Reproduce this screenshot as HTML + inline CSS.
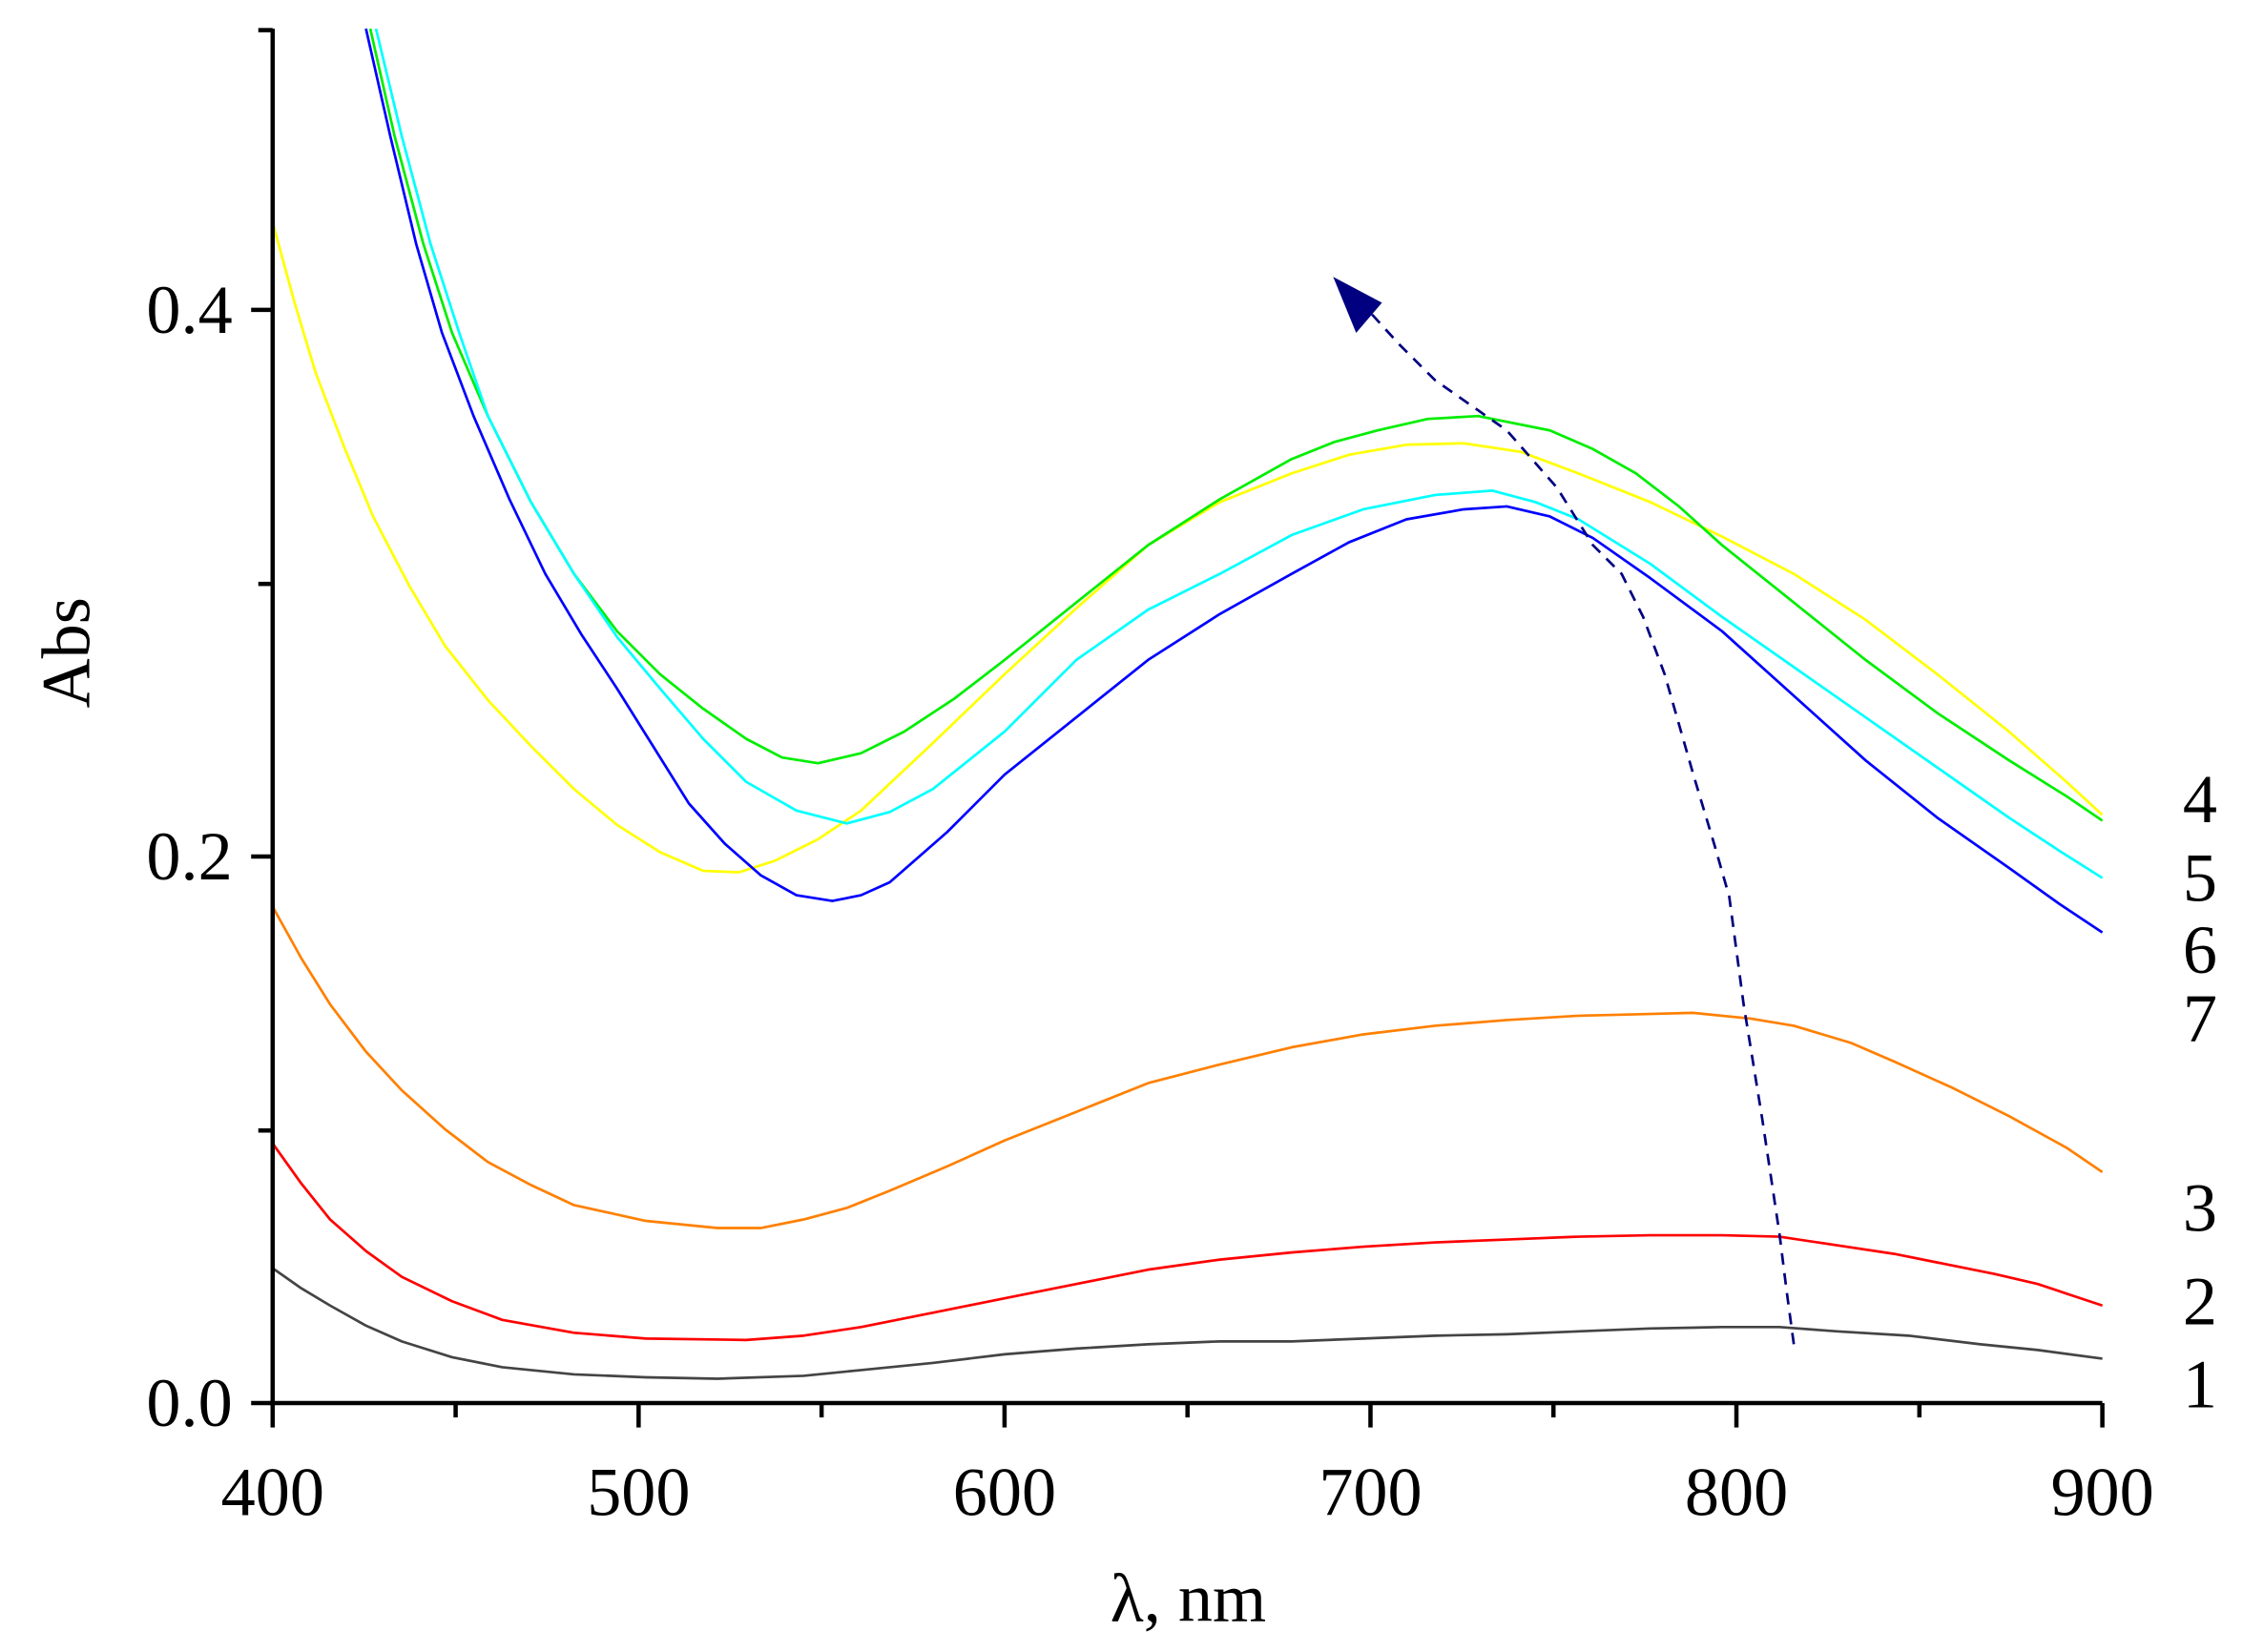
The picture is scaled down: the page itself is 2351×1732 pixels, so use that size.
<!DOCTYPE html>
<html><head><meta charset="utf-8"><style>html,body{margin:0;padding:0;background:#fff;}svg{display:block;}</style></head>
<body>
<svg width="2351" height="1732" viewBox="0 0 1563 1151.5" preserveAspectRatio="none" xmlns="http://www.w3.org/2000/svg" font-family="Liberation Serif, serif">
<g fill="none" stroke-width="1.8" stroke-linejoin="round">
<polyline stroke="#444" points="190,884 210,898 230,910 255,924 280,935 315,946 350,953 400,958 450,960 500,961 560,959 600,955 650,950 700,944 750,940 800,937 850,935 900,935 950,933 1000,931 1050,930 1100,928 1150,926 1200,925 1240,925 1280,928 1330,931 1380,937 1420,941 1465,947"/>
<polyline stroke="#ff0000" points="190,797 210,825 230,850 255,872 280,890 315,907 350,920 400,929 450,933 520,934 560,931 600,925 650,915 700,905 750,895 800,885 850,878 900,873 950,869 1000,866 1050,864 1100,862 1150,861 1200,861 1240,862 1280,868 1320,874 1350,880 1390,888 1420,895 1465,910"/>
<polyline stroke="#ff8000" points="190,632 210,668 230,700 255,733 280,760 310,787 340,810 370,826 400,840 450,851 500,856 530,856 560,850 590,842 620,830 660,813 700,795 750,775 800,755 850,742 900,730 950,721 1000,715 1050,711 1100,708 1140,707 1180,706 1220,710 1250,715 1290,727 1320,740 1360,758 1400,778 1440,800 1465,817"/>
<polyline stroke="#ffff00" points="190,155 205,210 220,260 240,312 260,360 285,408 310,450 340,488 370,520 400,550 430,575 460,594 490,607 515,608 540,600 570,585 600,565 650,518 700,470 750,424 800,380 850,350 900,330 940,317 980,310 1020,309 1060,315 1100,330 1150,350 1200,374 1250,400 1300,432 1350,470 1400,510 1440,545 1465,568"/>
<polyline stroke="#00ee00" points="258,20 275,95 295,170 315,232 340,290 370,350 400,400 430,440 460,470 490,494 520,515 545,528 570,532 600,525 630,510 665,487 700,460 750,420 800,380 850,348 900,320 930,308 960,300 995,292 1030,290 1080,300 1110,313 1140,330 1170,353 1200,380 1250,420 1300,460 1350,497 1400,530 1440,555 1465,572"/>
<polyline stroke="#00ffff" points="262,20 280,95 300,170 320,232 340,290 370,350 400,400 430,444 460,480 490,515 520,545 555,565 590,574 620,566 650,550 700,510 750,460 800,425 850,400 900,373 950,355 1000,345 1040,342 1070,350 1100,362 1150,393 1200,430 1250,465 1300,500 1350,535 1400,570 1435,593 1465,612"/>
<polyline stroke="#0000ff" points="255,20 272,95 290,170 308,232 330,290 355,348 380,400 405,442 430,480 455,520 480,560 505,588 530,610 555,624 580,628 600,624 620,615 660,580 700,540 750,500 800,460 850,428 900,400 940,378 980,362 1020,355 1050,353 1080,360 1110,375 1150,403 1200,440 1250,485 1300,530 1350,570 1400,605 1435,630 1465,650"/>
<polyline stroke="#000080" stroke-width="1.8" stroke-dasharray="8,6" points="1250,937 1245,900 1240,860 1228,780 1215,700 1205,625 1195,590 1180,540 1160,470 1145,430 1130,400 1110,380 1085,340 1050,300 1000,265 975,240 955,218"/>
</g>
<polygon points="929,193 963,211 945,232" fill="#000080"/>
<!-- axes -->
<g stroke="#000" stroke-width="3" fill="none">
<line x1="190" y1="20" x2="190" y2="980"/>
<line x1="188" y1="978" x2="1465" y2="978"/>
<line x1="180" y1="21" x2="190" y2="21"/>
<line x1="175" y1="216" x2="190" y2="216"/>
<line x1="180" y1="407" x2="190" y2="407"/>
<line x1="175" y1="597" x2="190" y2="597"/>
<line x1="180" y1="788" x2="190" y2="788"/>
<line x1="175" y1="978" x2="190" y2="978"/>
<line x1="190" y1="978" x2="190" y2="995"/>
<line x1="317.5" y1="978" x2="317.5" y2="988"/>
<line x1="445" y1="978" x2="445" y2="995"/>
<line x1="572.5" y1="978" x2="572.5" y2="988"/>
<line x1="700" y1="978" x2="700" y2="995"/>
<line x1="827.5" y1="978" x2="827.5" y2="988"/>
<line x1="955" y1="978" x2="955" y2="995"/>
<line x1="1082.5" y1="978" x2="1082.5" y2="988"/>
<line x1="1210" y1="978" x2="1210" y2="995"/>
<line x1="1337.5" y1="978" x2="1337.5" y2="988"/>
<line x1="1465" y1="978" x2="1465" y2="995"/>
</g>
<g font-size="48" fill="#000">
<text x="162" y="232" text-anchor="end">0.4</text>
<text x="162" y="613" text-anchor="end">0.2</text>
<text x="162" y="994" text-anchor="end">0.0</text>
<g text-anchor="middle">
<text x="190" y="1056">400</text>
<text x="445" y="1056">500</text>
<text x="700" y="1056">600</text>
<text x="955" y="1056">700</text>
<text x="1210" y="1056">800</text>
<text x="1465" y="1056">900</text>
<text x="828" y="1130">λ, nm</text>
</g>
<text transform="translate(62,455) rotate(-90)" text-anchor="middle">Abs</text>
<g text-anchor="middle">
<text x="1533" y="573">4</text>
<text x="1533" y="628">5</text>
<text x="1533" y="678">6</text>
<text x="1533" y="726">7</text>
<text x="1533" y="858">3</text>
<text x="1533" y="923">2</text>
<text x="1533" y="981">1</text>
</g>
</g>
</svg>
</body></html>
